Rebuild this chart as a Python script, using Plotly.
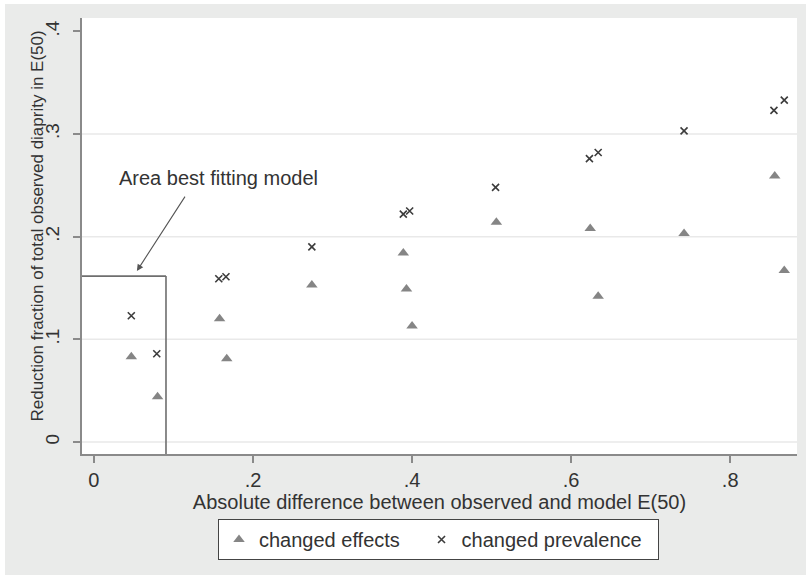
import plotly.graph_objects as go

# ---- data ----
effects_x = [0.047, 0.080, 0.158, 0.167, 0.274, 0.389, 0.393, 0.400, 0.506, 0.624, 0.634, 0.742, 0.856, 0.868]
effects_y = [0.083, 0.044, 0.120, 0.081, 0.153, 0.184, 0.149, 0.113, 0.214, 0.208, 0.142, 0.203, 0.259, 0.167]

prev_x = [0.047, 0.079, 0.157, 0.166, 0.274, 0.389, 0.397, 0.505, 0.623, 0.634, 0.742, 0.855, 0.868]
prev_y = [0.123, 0.086, 0.159, 0.161, 0.190, 0.222, 0.225, 0.248, 0.276, 0.282, 0.303, 0.323, 0.333]

x_ticks = [0, 0.2, 0.4, 0.6, 0.8]
x_tick_text = ["0", ".2", ".4", ".6", ".8"]
y_ticks = [0, 0.1, 0.2, 0.3, 0.4]
y_tick_text = ["0", ".1", ".2", ".3", ".4"]
grid_y = [0, 0.1, 0.2, 0.3]

x_range = [-0.015, 0.884]
y_range = [-0.0117, 0.413]

box_x = 0.0906      # best fitting area bound (x)
box_y = 0.1616      # best fitting area bound (y)
arrow_head = (0.054, 0.1665)
arrow_tail = (0.1157, 0.2405)
label_pos = (0.157, 0.257)

FONT = "Liberation Sans, Arial, sans-serif"
TXT = "#333333"
AXC = "#8a8a8a"
NB = "\u00a0"

fig = go.Figure()
fig.add_trace(go.Scatter(
    x=effects_x, y=effects_y, mode="markers", name="changed effects" + NB * 3,
    marker=dict(symbol="triangle-up", size=10, color="#858585"),
))
fig.add_trace(go.Scatter(
    x=prev_x, y=prev_y, mode="markers", name="changed prevalence" + NB * 2,
    marker=dict(symbol="x-thin", size=7, color="#3c3c3c",
                line=dict(width=1.6, color="#3c3c3c")),
))

shapes = [
    # outer gray background and white plot area
    dict(type="rect", xref="paper", yref="paper", x0=-0.1077, x1=1.02, y0=-0.2775, y1=1.0321,
         fillcolor="#eaebea", line=dict(width=0), layer="below"),
    dict(type="rect", xref="paper", yref="paper", x0=0, x1=1, y0=0, y1=1,
         fillcolor="white", line=dict(width=0), layer="below"),
]
for g in grid_y:
    shapes.append(dict(type="line", xref="paper", yref="y", x0=0, x1=1, y0=g, y1=g,
                       line=dict(color="#e9e9e9", width=1.5), layer="below"))
shapes.append(dict(type="line", xref="x", yref="y", x0=x_range[0], x1=box_x, y0=box_y, y1=box_y,
                   line=dict(color="#6e6e6e", width=1.6)))
shapes.append(dict(type="line", xref="x", yref="y", x0=box_x, x1=box_x, y0=y_range[0], y1=box_y,
                   line=dict(color="#6e6e6e", width=1.6)))

fig.update_layout(
    width=806, height=577,
    margin=dict(l=82, r=9, t=18, b=123),
    paper_bgcolor="white", plot_bgcolor="white",
    font=dict(family=FONT, color=TXT, size=20),
    shapes=shapes,
    showlegend=True,
    legend=dict(orientation="h", x=(218 - 82) / 715, xanchor="left", y=-0.149, yanchor="top",
                bgcolor="white", bordercolor="#444444", borderwidth=1,
                font=dict(size=20, color=TXT)),
    annotations=[
        dict(x=label_pos[0], y=label_pos[1], xref="x", yref="y", text="Area best fitting model",
             showarrow=False, font=dict(size=20, color=TXT)),
        dict(x=arrow_head[0], y=arrow_head[1], ax=arrow_tail[0], ay=arrow_tail[1],
             xref="x", yref="y", axref="x", ayref="y", text="", showarrow=True,
             arrowhead=2, arrowsize=1.2, arrowwidth=1.1, arrowcolor="#555555"),
        # y-axis title
        dict(x=-0.0629, y=0.5218, xref="paper", yref="paper", textangle=-90,
             text="Reduction fraction of total observed diaprity in E(50)",
             showarrow=False, font=dict(size=17, color=TXT), xanchor="center", yanchor="middle"),
    ],
)
fig.update_xaxes(
    range=x_range, tickvals=x_ticks, ticktext=x_tick_text, showgrid=False, zeroline=False,
    showline=True, linecolor=AXC, linewidth=2, ticks="outside", ticklen=7, tickwidth=1.5,
    tickcolor=AXC, tickfont=dict(size=20), automargin=False,
    title=dict(text="Absolute difference between observed and model E(50)",
               font=dict(size=20), standoff=3),
)
fig.update_yaxes(
    range=y_range, tickvals=y_ticks, ticktext=y_tick_text, showgrid=False, zeroline=False,
    showline=True, linecolor=AXC, linewidth=2, ticks="outside", ticklen=7, tickwidth=1.5,
    tickcolor=AXC, tickangle=-90, tickfont=dict(size=19), automargin=False,
    ticklabelstandoff=6,
)

fig.write_html("out.html", config={"displayModeBar": False},
               post_script="document.body.style.margin='0';document.body.style.overflow='hidden';")
